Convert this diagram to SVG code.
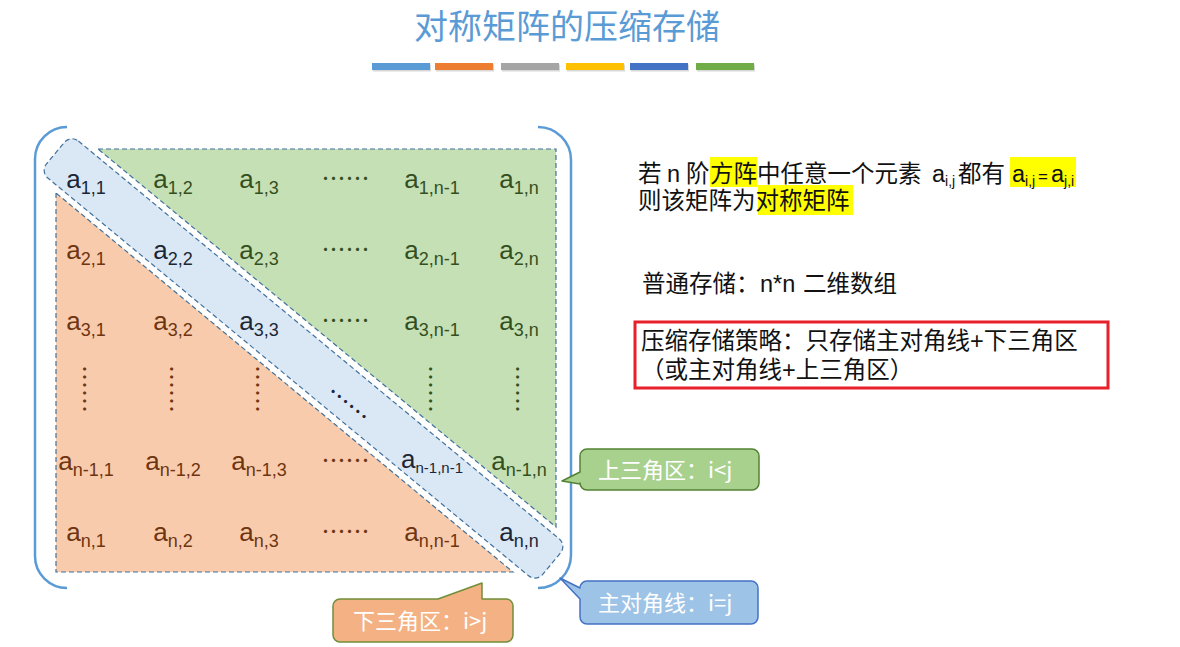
<svg xmlns="http://www.w3.org/2000/svg" width="1180" height="647" viewBox="0 0 1180 647">
<style>
.m{font-family:"Liberation Sans",Arial,sans-serif;font-size:26px;text-anchor:middle}
.m tspan{font-size:18px}
.g{fill:#344f1f}.o{fill:#6e3510}.b{fill:#1c2636}
.dots{font-family:"Noto Sans CJK SC",sans-serif;font-size:24px;text-anchor:middle}
.zone{stroke:#41719c;stroke-width:1.2;stroke-dasharray:5 3}
.br{fill:none;stroke:#5b9bd5;stroke-width:2.5}
.t{font-family:"Liberation Sans","Noto Sans CJK SC",sans-serif;font-size:23.5px;fill:#111}
.cj{font-family:"Noto Sans CJK SC",sans-serif}
.sb{font-size:14px}
.ct{font-family:"Noto Sans CJK SC",sans-serif;font-size:22px;fill:#ffffff}
</style>
<rect width="1180" height="647" fill="#ffffff"/>
<g id="title">
<text x="567" y="39" text-anchor="middle" font-family="Noto Sans CJK SC,sans-serif" font-size="34" fill="#5b9bd5">对称矩阵的压缩存储</text>
<g fill="#bfbfbf" opacity="0.6">
<rect x="373" y="64.5" width="58" height="7"/><rect x="436" y="64.5" width="58" height="7"/><rect x="502" y="64.5" width="58" height="7"/><rect x="567" y="64.5" width="58" height="7"/><rect x="631" y="64.5" width="58" height="7"/><rect x="697" y="64.5" width="58" height="7"/>
</g>
<rect x="372" y="63" width="58" height="7" fill="#5b9bd5"/>
<rect x="435" y="63" width="58" height="7" fill="#ed7d31"/>
<rect x="501" y="63" width="58" height="7" fill="#a5a5a5"/>
<rect x="566" y="63" width="58" height="7" fill="#ffc000"/>
<rect x="630" y="63" width="58" height="7" fill="#4472c4"/>
<rect x="696" y="63" width="58" height="7" fill="#70ad47"/>
</g>
<g id="upper-zone"><polygon class="zone" points="98,149 556,149 556,527" fill="#c5e0b4"/></g>
<g id="lower-zone"><polygon class="zone" points="56,193 56,572 513,572" fill="#f8cbad"/></g>
<g id="diagonal-zone"><rect class="zone" x="-322" y="-24" width="644" height="48" rx="10" fill="#dae8f5" transform="translate(303.5,358.4) rotate(39.6)"/></g>
<g id="brackets">
<path class="br" d="M67,127 A32,32 0 0 0 35,159 L35,556 A32,32 0 0 0 67,588"/>
<path class="br" d="M538,127 A33,33 0 0 1 571,160 L571,555 A33,33 0 0 1 538,588"/>
</g>
<g id="elements">
<text class="m b" x="86" y="188">a<tspan dy="6">1,1</tspan></text>
<text class="m g" x="173" y="188">a<tspan dy="6">1,2</tspan></text>
<text class="m g" x="259" y="188">a<tspan dy="6">1,3</tspan></text>
<text class="dots g" x="345.5" y="187">……</text>
<text class="m g" x="432" y="188">a<tspan dy="6">1,n-1</tspan></text>
<text class="m g" x="519" y="188">a<tspan dy="6">1,n</tspan></text>

<text class="m o" x="86" y="259">a<tspan dy="6">2,1</tspan></text>
<text class="m b" x="173" y="259">a<tspan dy="6">2,2</tspan></text>
<text class="m g" x="259" y="259">a<tspan dy="6">2,3</tspan></text>
<text class="dots g" x="345.5" y="258">……</text>
<text class="m g" x="432" y="259">a<tspan dy="6">2,n-1</tspan></text>
<text class="m g" x="519" y="259">a<tspan dy="6">2,n</tspan></text>

<text class="m o" x="86" y="330">a<tspan dy="6">3,1</tspan></text>
<text class="m o" x="173" y="330">a<tspan dy="6">3,2</tspan></text>
<text class="m b" x="259" y="330">a<tspan dy="6">3,3</tspan></text>
<text class="dots g" x="345.5" y="329">……</text>
<text class="m g" x="432" y="330">a<tspan dy="6">3,n-1</tspan></text>
<text class="m g" x="519" y="330">a<tspan dy="6">3,n</tspan></text>

<text class="dots o" transform="translate(85,389) rotate(90)" y="9">……</text>
<text class="dots o" transform="translate(172,389) rotate(90)" y="9">……</text>
<text class="dots o" transform="translate(258,389) rotate(90)" y="9">……</text>
<text class="dots b" transform="translate(348.5,404) rotate(39)" y="9">……</text>
<text class="dots g" transform="translate(431,389) rotate(90)" y="9">……</text>
<text class="dots g" transform="translate(518,389) rotate(90)" y="9">……</text>

<text class="m o" x="86" y="470">a<tspan dy="6">n-1,1</tspan></text>
<text class="m o" x="173" y="470">a<tspan dy="6">n-1,2</tspan></text>
<text class="m o" x="259" y="470">a<tspan dy="6">n-1,3</tspan></text>
<text class="dots o" x="345.5" y="469">……</text>
<text class="m b" x="432" y="468" font-size="24">a<tspan dy="5" style="font-size:15px">n-1,n-1</tspan></text>
<text class="m g" x="519" y="470">a<tspan dy="6">n-1,n</tspan></text>

<text class="m o" x="86" y="541">a<tspan dy="6">n,1</tspan></text>
<text class="m o" x="173" y="541">a<tspan dy="6">n,2</tspan></text>
<text class="m o" x="259" y="541">a<tspan dy="6">n,3</tspan></text>
<text class="dots o" x="345.5" y="540">……</text>
<text class="m o" x="432" y="541">a<tspan dy="6">n,n-1</tspan></text>
<text class="m b" x="519" y="541">a<tspan dy="6">n,n</tspan></text>
</g>
<g id="callout-upper">
<path d="M587,449 H752 A7,7 0 0 1 759,456 V483 A7,7 0 0 1 752,490 H587 A7,7 0 0 1 580,483 V484 L562,481 L580,472 V456 A7,7 0 0 1 587,449 Z" fill="#a9d18e" stroke="#548235" stroke-width="1.5" stroke-linejoin="round"/>
<text class="ct" x="598" y="478">上三角区：i&lt;j</text>
</g>
<g id="callout-diagonal">
<path d="M587,581 H751 A7,7 0 0 1 758,588 V617 A7,7 0 0 1 751,624 H587 A7,7 0 0 1 580,617 V599 L560,578 L580,588 A7,7 0 0 1 587,581 Z" fill="#9dc3e6" stroke="#4472c4" stroke-width="1.5" stroke-linejoin="round"/>
<text class="ct" x="598" y="611">主对角线：i=j</text>
</g>
<g id="callout-lower">
<path d="M340,599 H438 L482,583 V599 H506 A7,7 0 0 1 513,606 V635 A7,7 0 0 1 506,642 H340 A7,7 0 0 1 333,635 V606 A7,7 0 0 1 340,599 Z" fill="#f4b183" stroke="#6f8f3a" stroke-width="1.5" stroke-linejoin="round"/>
<text class="ct" x="353" y="629">下三角区：i&gt;j</text>
</g>
<g id="definition">
<rect x="710" y="157" width="47" height="30" fill="#ffff00"/>
<rect x="1010" y="157" width="66" height="30" fill="#ffff00"/>
<rect x="758" y="185" width="95" height="30" fill="#ffff00"/>
<text class="t" y="182"><tspan x="638" class="cj">若</tspan><tspan x="667">n</tspan><tspan x="686" class="cj">阶</tspan><tspan x="710" class="cj">方阵中任意一个元素</tspan><tspan x="932">a</tspan><tspan class="sb" dy="4">i,j</tspan><tspan x="958" dy="-4" class="cj">都有</tspan><tspan x="1012">a</tspan><tspan class="sb" dy="4">i,j</tspan><tspan dy="-4" x="1038" style="font-size:17px">=</tspan><tspan x="1051">a</tspan><tspan class="sb" dy="4">j,i</tspan></text>
<text class="t" x="638" y="209">则该矩阵为对称矩阵</text>
</g>
<g id="normal-storage">
<text class="t" y="292"><tspan x="642">普通存储：</tspan><tspan x="760">n*n</tspan><tspan x="803">二维数组</tspan></text>
</g>
<g id="strategy">
<rect x="635" y="322" width="473" height="66" fill="none" stroke="#e8202a" stroke-width="3"/>
<text class="t" x="641" y="349">压缩存储策略：只存储主对角线+下三角区</text>
<text class="t" x="641" y="378">（或主对角线+上三角区）</text>
</g>
</svg>
